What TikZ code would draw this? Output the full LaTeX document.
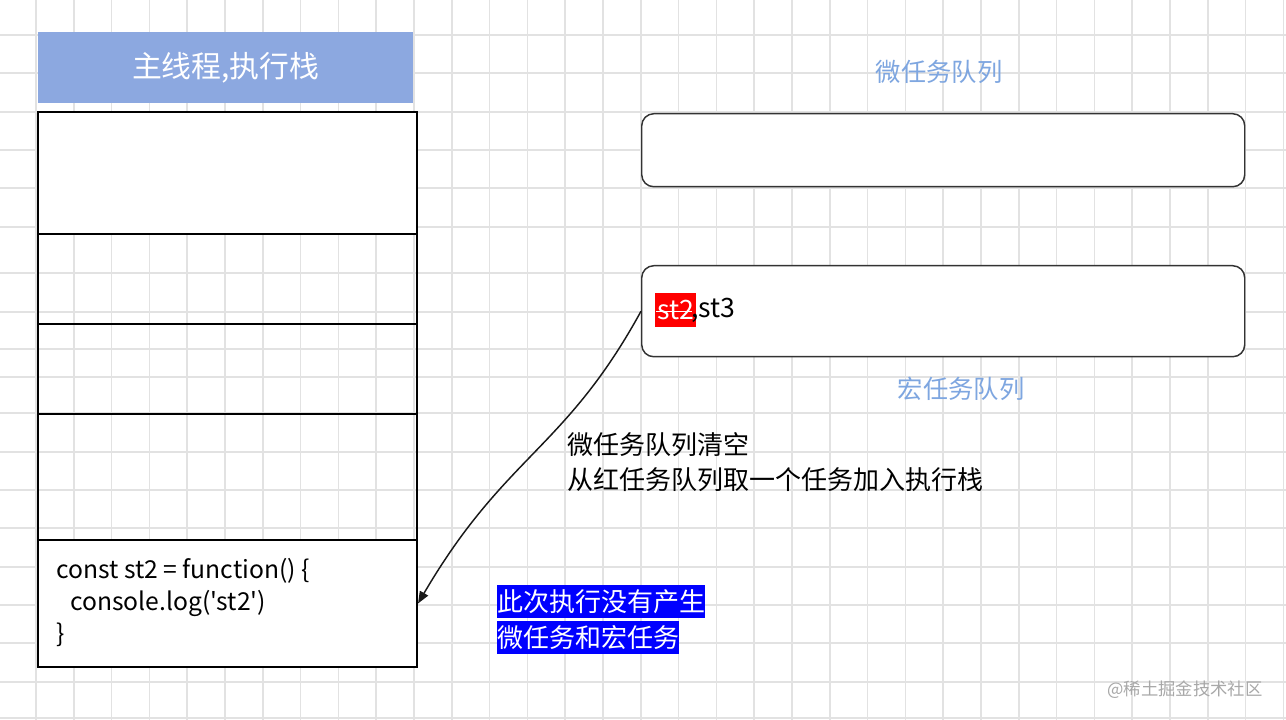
\documentclass[tikz,border=0pt]{standalone}
\usepackage{fontspec}
\setmainfont{Noto Sans CJK SC}
\newfontfamily\codefont{Noto Sans CJK SC}
\usetikzlibrary{arrows.meta}
\definecolor{gridc}{HTML}{E2E2E2}
\definecolor{headfill}{HTML}{8CA8E0}
\definecolor{qlabel}{HTML}{7EA6E0}
\definecolor{qborder}{HTML}{333333}
\definecolor{wm}{HTML}{A8A8A8}
\tikzset{
  cell/.style={draw=black, line width=1.5pt, minimum width=379*0.75pt, anchor=north west, inner sep=0pt},
  queue/.style={draw=qborder, line width=1.1pt, rounded corners=9pt, minimum width=603*0.75pt, anchor=north west, inner sep=0pt, fill=white},
  qtitle/.style={text=qlabel, font=\fontsize{19pt}{23pt}\selectfont},
  note/.style={font=\fontsize{19.5pt}{26pt}\selectfont, align=left, inner sep=0pt},
  hl/.style={fill=blue, text=white, font=\fontsize{19.5pt}{24pt}\selectfont, inner xsep=0pt, inner ysep=0pt, minimum height=33*0.75pt, anchor=north west},
  conn/.style={draw=black!90, line width=1.1pt, -{Triangle[length=9pt,width=7pt]}}
}
\begin{document}
\begin{tikzpicture}[x=0.75pt,y=-0.75pt]
\useasboundingbox (0,0) rectangle (1286,720);
\fill[white] (0,0) rectangle (1286,720);
% grid
\foreach \k in {0,...,33} {
  \draw[gridc, line width=1.2pt] ({36+37.8*\k},0) -- ({36+37.8*\k},720);
}
\foreach \yy in {35,73,112,150,188,227,273,312,349,377,413,452,490,528,567,605,643,682,718} {
  \draw[gridc, line width=1.2pt] (0,\yy) -- (1286,\yy);
}
% header
\node[fill=headfill, minimum width=375*0.75pt, minimum height=71*0.75pt, anchor=north west, inner sep=0pt,
      text=white, font=\fontsize{22.4pt}{26pt}\selectfont] (head) at (38,32) {主线程,执行栈};
% stack cells
\node[cell, fill=white, minimum height=122*0.75pt] (c1) at (37,111) {};
\node[cell, minimum height=90*0.75pt] (c2) at (37,233) {};
\node[cell, minimum height=90*0.75pt] (c3) at (37,323) {};
\node[cell, minimum height=126*0.75pt] (c4) at (37,413) {};
\node[cell, fill=white, minimum height=127*0.75pt] (c5) at (37,539) {};
\node[anchor=west, align=left, inner sep=0pt, font=\codefont\fontsize{18.5pt}{24pt}\selectfont] (code) at (56,603)
  {const st2 = function() \{\\\hspace*{10.5pt}console.log('st2')\\\}};
% queues
\node[qtitle] (mqt) at (939,72) {微任务队列};
\node[queue, minimum height=73*0.75pt] (q1) at (641,113) {};
\node[queue, minimum height=91*0.75pt] (q2) at (641,265) {};
\node[qtitle] (Mqt) at (961,389) {宏任务队列};
\node[fill=red, text=white, inner xsep=1.5pt, inner ysep=0pt, minimum height=34*0.75pt, anchor=west,
      font=\fontsize{20pt}{24pt}\selectfont] (st2) at (655,310) {st2};
\draw[white, line width=0.6pt] ([xshift=1pt,yshift=-1pt]st2.west) -- ([xshift=-3pt,yshift=-1pt]st2.east);
\node[anchor=west, inner sep=0pt, font=\fontsize{20pt}{24pt}\selectfont] (st3) at ([xshift=-4pt]st2.east) {,st3};
% connector
\draw[conn] (q2.west) .. controls (565,450) and (505,455) .. (c5.east);
\node[note, anchor=west] (lbl) at (567,462) {微任务队列清空\\从红任务队列取一个任务加入执行栈};
% blue note
\node[hl] (b1) at (497,585) {此次执行没有产生};
\node[hl] (b2) at (497,621) {微任务和宏任务};
% watermark
\node[text=wm, font=\fontsize{13pt}{16pt}\selectfont] (wmk) at (1185,690) {@稀土掘金技术社区};
\end{tikzpicture}
\end{document}
